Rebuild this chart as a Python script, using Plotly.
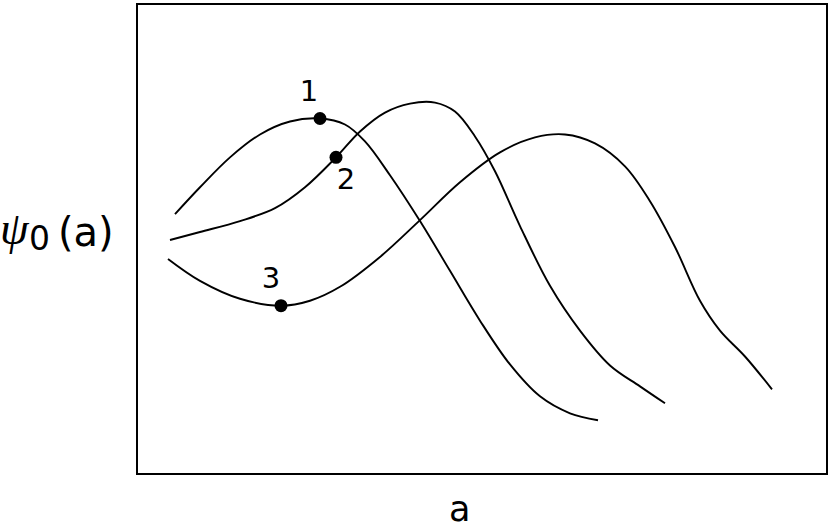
import plotly.graph_objects as go

# Curve samples (x grows right, psi grows up; y given in picture rows, axis reversed)
curve1_x = [175, 200, 230, 260, 290, 320, 345, 365, 390, 420, 450, 480, 510, 540, 570, 598]
curve1_y = [213, 186, 156, 133, 120, 117, 123, 140, 174, 220, 270, 320, 364, 396, 413, 420]

curve2_x = [170, 200, 240, 275, 305, 336, 360, 385, 410, 435, 455, 475, 495, 520, 550, 580, 610, 640, 665]
curve2_y = [239, 231, 220, 207, 186, 156, 130, 111, 102, 101, 110, 135, 170, 225, 285, 330, 365, 386, 403]

curve3_x = [168, 200, 240, 281, 310, 340, 380, 420, 460, 500, 535, 565, 595, 625, 650, 675, 700, 720, 745, 772]
curve3_y = [258, 280, 298, 305, 300, 286, 256, 219, 181, 151, 136, 133, 142, 165, 200, 246, 300, 330, 356, 389]

point_labels = ["1", "2", "3"]
point_x = [320, 336, 281]
point_y = [117, 156, 305]
label_x = [309, 346, 271]
label_y = [92, 181, 280]

x_title = "a"

X0, X1 = 138, 826
Y0, Y1 = 3, 473

fig = go.Figure()
for cx, cy in [(curve1_x, curve1_y), (curve2_x, curve2_y), (curve3_x, curve3_y)]:
    fig.add_trace(go.Scatter(x=cx, y=cy, mode="lines",
                             line=dict(color="black", width=1.9, shape="spline", smoothing=1.0),
                             hoverinfo="skip", showlegend=False))

fig.add_trace(go.Scatter(x=point_x, y=point_y, mode="markers",
                         marker=dict(color="black", size=13),
                         showlegend=False, hoverinfo="skip"))
fig.add_trace(go.Scatter(x=label_x, y=label_y, mode="text", text=point_labels,
                         textfont=dict(family="DejaVu Sans", size=29, color="black"),
                         textposition="middle center", showlegend=False, hoverinfo="skip"))

def px(x):
    return (x - X0) / (X1 - X0)

def py(y):
    return (Y1 - y) / (Y1 - Y0)

annotations = [
    dict(text="<i>ψ</i>", x=px(15), y=py(227), font=dict(family="Liberation Serif", size=46, color="black")),
    dict(text="0", x=px(39), y=py(237), font=dict(family="DejaVu Sans", size=33, color="black")),
    dict(text="(a)", x=px(86), y=py(231), font=dict(family="DejaVu Sans", size=40, color="black")),
    dict(text=x_title, x=px(459), y=py(531), yanchor="bottom",
         font=dict(family="DejaVu Sans", size=35, color="black")),
]
for a in annotations:
    a.setdefault("yanchor", "middle")
    a.update(xref="paper", yref="paper", showarrow=False, xanchor="center")

fig.update_layout(
    width=831, height=532,
    margin=dict(l=X0, r=831 - X1, t=Y0, b=532 - Y1),
    plot_bgcolor="white", paper_bgcolor="white",
    annotations=annotations,
    xaxis=dict(range=[X0, X1], showgrid=False, zeroline=False, showticklabels=False, ticks="",
               showline=True, mirror=True, linecolor="black", linewidth=2),
    yaxis=dict(range=[Y1, Y0], showgrid=False, zeroline=False, showticklabels=False, ticks="",
               showline=True, mirror=True, linecolor="black", linewidth=2),
)

fig.write_html("out.html", config={"displayModeBar": False},
               post_script="document.body.style.margin='0';document.body.style.overflow='hidden';")
